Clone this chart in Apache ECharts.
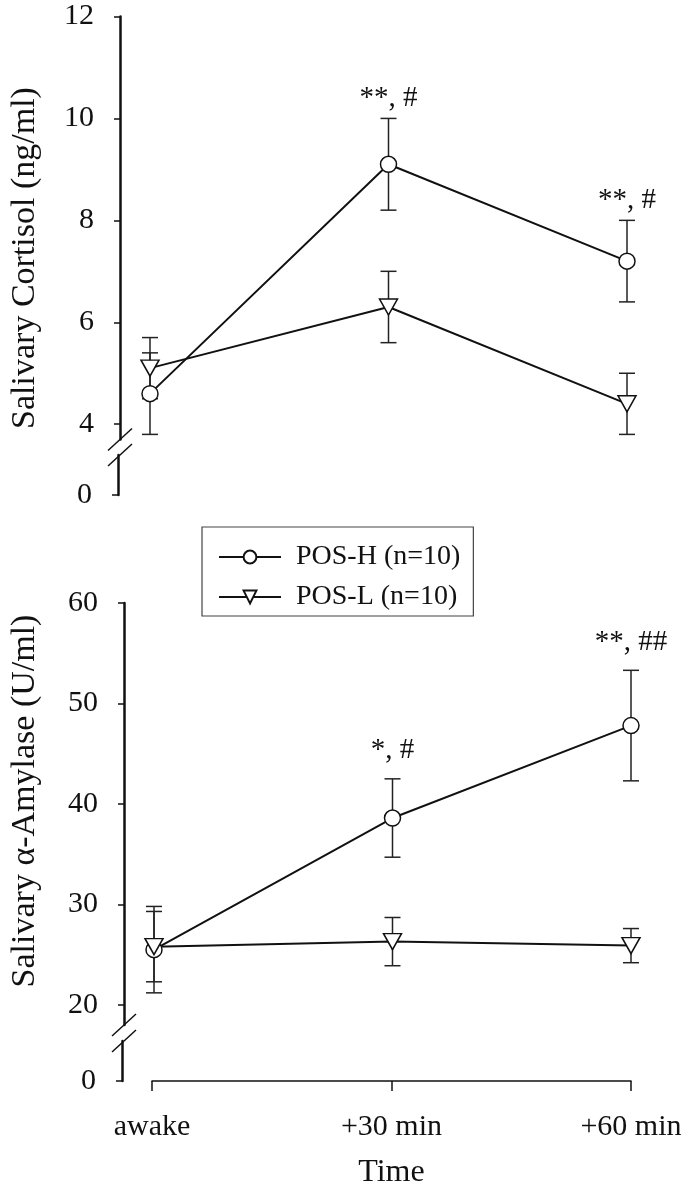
<!DOCTYPE html>
<html><head><meta charset="utf-8">
<script src="https://cdn.jsdelivr.net/npm/echarts@6/dist/echarts.min.js"></script>
<style>html,body{margin:0;padding:0;background:#fff}#c{width:685px;height:1190px}</style>
</head><body><div id="c"></div>
<script>
const categories = ['awake', '+30 min', '+60 min'];
const groupNames = ['POS-H (n=10)', 'POS-L (n=10)'];
const cortisolH = [4.6, 9.1, 7.2];
const cortisolHErr = [0.8, 0.9, 0.8];
const cortisolL = [5.1, 6.3, 4.4];
const cortisolLErr = [0.6, 0.7, 0.6];
const cortisolNotes = ['', '**, #', '**, #'];
const amylaseH = [25.5, 38.6, 47.8];
const amylaseHErr = [4.3, 3.9, 5.5];
const amylaseL = [25.8, 26.3, 25.9];
const amylaseLErr = [3.5, 2.4, 1.7];
const amylaseNotes = ['', '*, #', '**, ##'];
const cortisolTicks = [4, 6, 8, 10, 12];
const amylaseTicks = [20, 30, 40, 50, 60];
const zeroTick = [0];

const FONT = 'Liberation Serif';
const INK = '#111';
const AXIS_OFFSET = 30;

const chart = echarts.init(document.getElementById('c'), null, {renderer: 'canvas'});

function errRows(mean, err) { return mean.map((m, i) => [i, m, err[i]]); }
function errorBarItem(params, api) {
  const i = api.value(0), m = api.value(1), e = api.value(2);
  const hi = api.coord([i, m + e]);
  const lo = api.coord([i, m - e]);
  const w = 8;
  const st = {stroke: '#222', lineWidth: 1.5};
  return {type: 'group', children: [
    {type: 'line', shape: {x1: hi[0], y1: hi[1], x2: lo[0], y2: lo[1]}, style: st},
    {type: 'line', shape: {x1: hi[0] - w, y1: hi[1], x2: hi[0] + w, y2: hi[1]}, style: st},
    {type: 'line', shape: {x1: lo[0] - w, y1: lo[1], x2: lo[0] + w, y2: lo[1]}, style: st}
  ]};
}
function noteSeries(notes, mean, err, xi, yi, gap) {
  const rows = [];
  notes.forEach((n, i) => { if (n) rows.push([i, mean[i] + err[i], i]); });
  return {
    type: 'custom', xAxisIndex: xi, yAxisIndex: yi, z: 5, silent: true,
    data: rows,
    renderItem: (params, api) => {
      const p = api.coord([api.value(0), api.value(1)]);
      return {type: 'text', x: p[0], y: p[1] - gap, style: {
        text: notes[api.value(2)], fill: INK, font: '29px "' + FONT + '"',
        align: 'center', verticalAlign: 'middle'}};
    }
  };
}
function lineSeries(name, data, xi, yi, symbol, rotate) {
  return {
    name, type: 'line', xAxisIndex: xi, yAxisIndex: yi, data,
    symbol, symbolSize: symbol === 'circle' ? 16 : [18, 16], symbolRotate: rotate,
    showAllSymbol: true, z: 10,
    itemStyle: {color: '#fff', borderColor: '#111', borderWidth: 1.5},
    lineStyle: {color: '#111', width: 2}
  };
}
function valueAxis(gi, min, max, ticks, name, nameGap, extraName) {
  return {
    type: 'value', gridIndex: gi, min, max, offset: AXIS_OFFSET,
    axisLine: {show: true, lineStyle: {color: '#111', width: 2.5}},
    axisTick: {show: true, length: 6, customValues: ticks, lineStyle: {color: '#111', width: 1.5}},
    axisLabel: {customValues: ticks, fontFamily: FONT, fontSize: 30, color: INK, margin: 26},
    splitLine: {show: false},
    name, nameLocation: 'middle', nameGap,
    nameTextStyle: Object.assign({fontFamily: FONT, fontSize: 34, color: INK}, extraName || {})
  };
}
function hiddenCat(gi) {
  return {type: 'category', gridIndex: gi, data: categories, boundaryGap: false, show: false};
}

const option = {
  animation: false,
  backgroundColor: '#fff',
  grid: [
    {left: 148, right: 58, top: 16.5, height: 423},
    {left: 148, right: 58, top: 455, height: 40},
    {left: 152, right: 54, top: 603, height: 422},
    {left: 152, right: 54, top: 1041, height: 40}
  ],
  xAxis: [
    hiddenCat(0), hiddenCat(1), hiddenCat(2),
    {type: 'category', gridIndex: 3, data: categories, boundaryGap: false,
     axisLine: {show: true, lineStyle: {color: '#111', width: 1.5}},
     axisTick: {show: true, length: 10, lineStyle: {color: '#111', width: 1.5}},
     axisLabel: {fontFamily: FONT, fontSize: 30, color: INK, margin: 31},
     name: 'Time', nameLocation: 'middle', nameGap: 76,
     nameTextStyle: {fontFamily: FONT, fontSize: 32, color: INK}}
  ],
  yAxis: [
    valueAxis(0, 3.7, 12, cortisolTicks, 'Salivary Cortisol (ng/ml)', 78, {padding: [0, 60, 0, 0]}),
    valueAxis(1, 0, 1, zeroTick, '', 0),
    valueAxis(2, 18, 60, amylaseTicks, 'Salivary \u03b1-Amylase (U/ml)', 82, {padding: [0, 0, 0, 26]}),
    valueAxis(3, 0, 1, zeroTick, '', 0)
  ],
  legend: {
    orient: 'vertical', left: 202, top: 527, data: groupNames,
    itemWidth: 62, itemHeight: 16, itemGap: 12, selectedMode: false,
    padding: [16, 13, 5, 16], borderColor: '#444', borderWidth: 1.2,
    textStyle: {fontFamily: FONT, fontSize: 28, color: INK, padding: [0, 0, 0, 10]}
  },
  series: [
    {type: 'custom', xAxisIndex: 0, yAxisIndex: 0, z: 2, silent: true, data: errRows(cortisolH, cortisolHErr), renderItem: errorBarItem},
    {type: 'custom', xAxisIndex: 0, yAxisIndex: 0, z: 2, silent: true, data: errRows(cortisolL, cortisolLErr), renderItem: errorBarItem},
    lineSeries(groupNames[1], cortisolL, 0, 0, 'triangle', 180),
    lineSeries(groupNames[0], cortisolH, 0, 0, 'circle', 0),
    noteSeries(cortisolNotes, cortisolH, cortisolHErr, 0, 0, 20),
    {type: 'custom', xAxisIndex: 2, yAxisIndex: 2, z: 2, silent: true, data: errRows(amylaseH, amylaseHErr), renderItem: errorBarItem},
    {type: 'custom', xAxisIndex: 2, yAxisIndex: 2, z: 2, silent: true, data: errRows(amylaseL, amylaseLErr), renderItem: errorBarItem},
    lineSeries(groupNames[0], amylaseH, 2, 2, 'circle', 0),
    lineSeries(groupNames[1], amylaseL, 2, 2, 'triangle', 180),
    noteSeries(amylaseNotes, amylaseH, amylaseHErr, 2, 2, 28)
  ]
};
chart.setOption(option);

// axis break slashes, placed from the axes' own pixel positions
function slashes(mainX, mainY, minVal, stubY) {
  const x = chart.convertToPixel({xAxisIndex: mainX}, 0) - AXIS_OFFSET;
  const y1 = chart.convertToPixel({yAxisIndex: mainY}, minVal);
  const y2 = chart.convertToPixel({yAxisIndex: stubY}, 1);
  const st = {stroke: '#111', lineWidth: 1.5};
  return [y1, y2].map(y => ({type: 'line', shape: {x1: x - 12, y1: y + 11, x2: x + 12, y2: y - 11}, style: st, z: 20}));
}
chart.setOption({graphic: [].concat(slashes(0, 0, 3.7, 1), slashes(2, 2, 18, 3))});
</script></body></html>
